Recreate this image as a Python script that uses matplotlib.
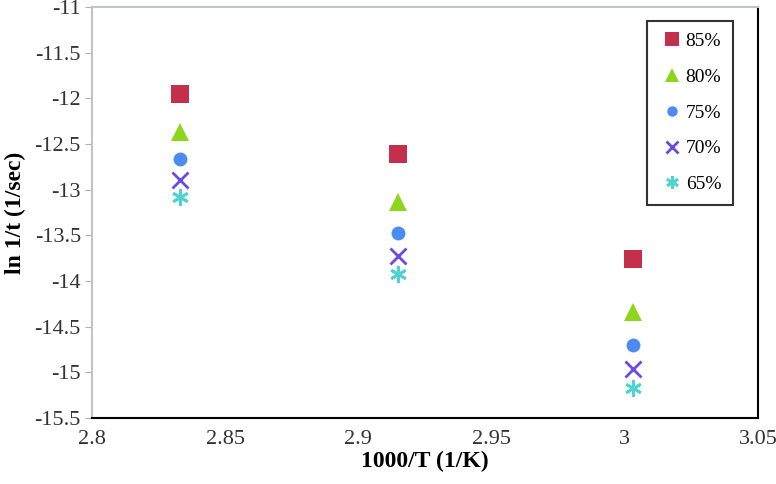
import matplotlib
matplotlib.use('Agg')
import matplotlib.pyplot as plt
from matplotlib.font_manager import FontProperties

# 1000/T values (1/K)
temps = [2.833, 2.915, 3.003]

# ln 1/t for each level
labels = ['85%', '80%', '75%', '70%', '65%']
y85 = [-11.95, -12.61, -13.76]
y80 = [-12.37, -13.14, -14.34]
y75 = [-12.66, -13.47, -14.70]
y70 = [-12.89, -13.73, -14.96]
y65 = [-13.08, -13.92, -15.17]

yticks = [-11, -11.5, -12, -12.5, -13, -13.5, -14, -14.5, -15, -15.5]
xticks = [2.8, 2.85, 2.9, 2.95, 3, 3.05]

series = [y85, y80, y75, y70, y65]
colors = ['#C4304B', '#8ED61E', '#4C8CF2', '#6B4AE2', '#4FD3D2']
markers = ['s', '^', 'o', 'x', (6, 2, 0)]
sizes = [13, 13, 10, 12, 12]

serif = ['Liberation Serif', 'DejaVu Serif']
plt.rcParams['font.family'] = serif
tick_font = FontProperties(family='Liberation Serif', size=16)

fig = plt.figure(figsize=(7.76, 4.84), dpi=100)
ax = fig.add_axes([92 / 776, 1 - 418 / 484, 666 / 776, 411 / 484])

for vals, lab, c, m, s in zip(series, labels, colors, markers, sizes):
    ax.plot(temps, vals, linestyle='none', marker=m, markersize=s, color=c,
            markeredgewidth=2 if m in ('x', (6, 2, 0)) else 0, label=lab)

ax.set_xlim(2.8, 3.05)
ax.set_ylim(-15.5, -11)
ax.set_xticks(xticks)
ax.set_xticklabels(['2.8', '2.85', '2.9', '2.95', '3', '3.05'])
ax.set_yticks(yticks)
ax.set_yticklabels([f'{v:g}' for v in yticks])
for t in ax.get_xticklabels() + ax.get_yticklabels():
    t.set_fontproperties(tick_font)
    t.set_color('#333333')
ax.tick_params(axis='x', length=0, pad=9)
ax.tick_params(axis='y', length=5, color='#b0b0b0', pad=3)

ax.spines['left'].set_color('#c0c4c4')
ax.spines['top'].set_color('#c0c4c4')
ax.spines['left'].set_linewidth(1.5)
ax.spines['top'].set_linewidth(1.5)
ax.spines['right'].set_color('black')
ax.spines['bottom'].set_color('black')
ax.spines['right'].set_linewidth(1.5)
ax.spines['bottom'].set_linewidth(1.5)

ax.set_xlabel('1000/T (1/K)', fontsize=17, fontweight='bold', labelpad=1)
ax.set_ylabel('ln 1/t (1/sec)', fontsize=17, fontweight='bold', labelpad=6)

leg = ax.legend(loc='upper right', bbox_to_anchor=(0.9625, 0.966), fontsize=14,
                frameon=True, fancybox=False, edgecolor='black',
                handletextpad=0.0, labelspacing=0.93, borderpad=0.6,
                borderaxespad=0, handlelength=1.4, markerscale=0.75)
leg.get_frame().set_linewidth(1.5)

fig.savefig('out.png', dpi=100)
